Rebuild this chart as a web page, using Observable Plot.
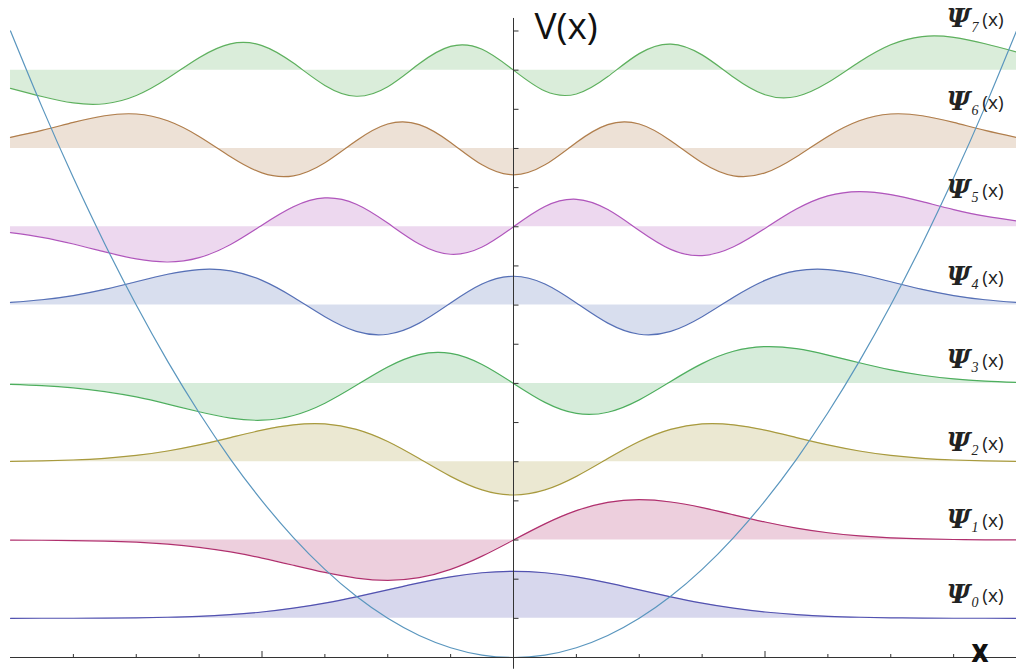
<!DOCTYPE html>
<html><head><meta charset="utf-8">
<script src="https://cdn.jsdelivr.net/npm/d3@7"></script>
<script src="https://cdn.jsdelivr.net/npm/@observablehq/plot@0.6"></script>
<style>html,body{margin:0;padding:0;background:#fff;}</style>
</head><body><div id="chart"></div>
<script>
// x sample positions
const xGrid = [-4, -3.75, -3.5, -3.25, -3, -2.75, -2.5, -2.25, -2, -1.75, -1.5, -1.25, -1, -0.75, -0.5, -0.25, 0,
  0.25, 0.5, 0.75, 1, 1.25, 1.5, 1.75, 2, 2.25, 2.5, 2.75, 3, 3.25, 3.5, 3.75, 4];

// wavefunction displacement above each level
const psi0 = [0.000, 0.001, 0.001, 0.003, 0.007, 0.014, 0.026, 0.048, 0.081, 0.130, 0.195, 0.275, 0.364, 0.454, 0.530, 0.582, 0.601,
  0.582, 0.530, 0.454, 0.364, 0.275, 0.195, 0.130, 0.081, 0.048, 0.026, 0.014, 0.007, 0.003, 0.001, 0.001, 0.000];
const psi1 = [-0.001, -0.003, -0.007, -0.014, -0.028, -0.053, -0.093, -0.152, -0.230, -0.322, -0.414, -0.486, -0.515, -0.481, -0.375, -0.206, 0,
  0.206, 0.375, 0.481, 0.515, 0.486, 0.414, 0.322, 0.230, 0.152, 0.093, 0.053, 0.028, 0.014, 0.007, 0.003, 0.001];
const psi2 = [0.004, 0.010, 0.022, 0.043, 0.080, 0.137, 0.215, 0.308, 0.403, 0.471, 0.483, 0.413, 0.258, 0.040, -0.187, -0.360, -0.425,
  -0.360, -0.187, 0.040, 0.258, 0.413, 0.483, 0.471, 0.403, 0.308, 0.215, 0.137, 0.080, 0.043, 0.022, 0.010, 0.004];
const psi3 = [-0.013, -0.029, -0.057, -0.104, -0.173, -0.264, -0.362, -0.443, -0.470, -0.410, -0.253, -0.025, 0.210, 0.368, 0.383, 0.242, 0,
  -0.242, -0.383, -0.368, -0.210, 0.025, 0.253, 0.410, 0.470, 0.443, 0.362, 0.264, 0.173, 0.104, 0.057, 0.029, 0.013];
const psi4 = [0.034, 0.068, 0.122, 0.201, 0.298, 0.394, 0.454, 0.437, 0.315, 0.100, -0.149, -0.336, -0.372, -0.230, 0.027, 0.269, 0.368,
  0.269, 0.027, -0.230, -0.372, -0.336, -0.149, 0.100, 0.315, 0.437, 0.454, 0.394, 0.298, 0.201, 0.122, 0.068, 0.034];
const psi5 = [-0.075, -0.135, -0.220, -0.321, -0.411, -0.450, -0.394, -0.226, 0.021, 0.256, 0.368, 0.288, 0.047, -0.220, -0.351, -0.259, 0,
  0.259, 0.351, 0.220, -0.047, -0.288, -0.368, -0.256, -0.021, 0.226, 0.394, 0.450, 0.411, 0.321, 0.220, 0.135, 0.075];
const psi6 = [0.141, 0.230, 0.333, 0.418, 0.440, 0.354, 0.154, -0.105, -0.312, -0.350, -0.183, 0.099, 0.312, 0.305, 0.077, -0.209, -0.336,
  -0.209, 0.077, 0.305, 0.312, 0.099, -0.183, -0.350, -0.312, -0.105, 0.154, 0.354, 0.440, 0.418, 0.333, 0.230, 0.141];
const psi7 = [-0.233, -0.337, -0.419, -0.429, -0.324, -0.104, 0.159, 0.336, 0.314, 0.090, -0.195, -0.333, -0.211, 0.082, 0.304, 0.267, 0,
  -0.267, -0.304, -0.082, 0.211, 0.333, 0.195, -0.090, -0.314, -0.336, -0.159, 0.104, 0.324, 0.429, 0.419, 0.337, 0.233];

// energy levels (baselines) and label heights
const energies = [0.5, 1.5, 2.5, 3.5, 4.5, 5.5, 6.5, 7.5];
const labelHeights = [0.79, 1.75, 2.73, 3.79, 4.85, 5.96, 7.08, 8.14];

// potential V(x) at xGrid
const potential = [8, 7.031, 6.125, 5.281, 4.5, 3.781, 3.125, 2.531, 2, 1.531, 1.125, 0.781, 0.5, 0.281, 0.125, 0.031, 0,
  0.031, 0.125, 0.281, 0.5, 0.781, 1.125, 1.531, 2, 2.531, 3.125, 3.781, 4.5, 5.281, 6.125, 7.031, 8];

// ticks
const xMinorTicks = [-3.5, -3, -2.5, -1.5, -1, -0.5, 0.5, 1, 1.5, 2.5, 3, 3.5];
const xMajorTicks = [-2, 2];
const yTicks = [0.5, 1, 1.5, 2, 2.5, 3, 3.5, 4, 4.5, 5, 5.5, 6, 6.5, 7, 7.5, 8];
const vAxisSpan = [-0.15, 8.16];

// styles
const lineColors = ["#5252b0", "#b0306e", "#a89a3e", "#4eae5e", "#5670b6", "#b056bc", "#b07e4c", "#5eb05e"];
const potentialColor = "#5a96be";
const axisColor = "#333333";

const psi = [psi0, psi1, psi2, psi3, psi4, psi5, psi6, psi7];
const rows = psi.map((vals, n) => xGrid.map((x, i) => ({n, x, base: energies[n], y: energies[n] + vals[i]})));
const potRows = xGrid.map((x, i) => ({x, v: potential[i]}));
const labels = energies.map((e, n) => ({n, y: labelHeights[n]}));

const tickRight = {draw(ctx) { ctx.moveTo(0, 0); ctx.lineTo(5, 0); }};
const tickUpShort = {draw(ctx) { ctx.moveTo(0, 0); ctx.lineTo(0, -3.5); }};
const tickUpLong = {draw(ctx) { ctx.moveTo(0, 0); ctx.lineTo(0, -6.5); }};

const marks = [];
rows.forEach((r, n) => {
  marks.push(Plot.areaY(r, {x: "x", y1: "base", y2: "y", fill: lineColors[n], fillOpacity: 0.23, curve: "natural"}));
});
rows.forEach((r, n) => {
  marks.push(Plot.lineY(r, {x: "x", y: "y", stroke: lineColors[n], strokeWidth: 1.2, curve: "natural"}));
});
marks.push(Plot.lineY(potRows, {x: "x", y: "v", stroke: potentialColor, strokeWidth: 1.2, curve: "natural"}));
marks.push(Plot.ruleY([0], {stroke: axisColor, strokeWidth: 1}));
marks.push(Plot.ruleX([0], {y1: vAxisSpan[0], y2: vAxisSpan[1], stroke: axisColor, strokeWidth: 1}));
marks.push(Plot.dot(yTicks, {x: () => 0, y: d => d, symbol: tickRight, fill: "none", stroke: axisColor, strokeWidth: 1}));
marks.push(Plot.dot(xMinorTicks, {x: d => d, y: () => 0, symbol: tickUpShort, fill: "none", stroke: axisColor, strokeWidth: 1}));
marks.push(Plot.dot(xMajorTicks, {x: d => d, y: () => 0, symbol: tickUpLong, fill: "none", stroke: axisColor, strokeWidth: 1}));

// labels
marks.push(Plot.text(labels, {x: () => 4, y: "y", text: () => "(x)", textAnchor: "end", lineAnchor: "middle", dx: -13,
  fontFamily: "Open Sans", fontSize: 19, fill: "#222"}));
marks.push(Plot.text(labels, {x: () => 4, y: "y", text: () => "\u03A8", textAnchor: "end", lineAnchor: "middle", dx: -46, dy: -1,
  fontFamily: "DejaVu Serif", fontStyle: "italic", fontWeight: "bold", fontSize: 26, fill: "#222"}));
marks.push(Plot.text(labels, {x: () => 4, y: "y", text: d => String(d.n), textAnchor: "start", lineAnchor: "middle", dx: -45, dy: 7,
  fontFamily: "Liberation Serif", fontStyle: "italic", fontSize: 14, fill: "#222"}));
marks.push(Plot.text(["V(x)"], {x: () => 0, frameAnchor: "top", text: d => d, textAnchor: "start", lineAnchor: "top", dx: 21, dy: 5,
  fontFamily: "Open Sans", fontSize: 37, fill: "#111"}));
marks.push(Plot.text(["x"], {x: () => 4, y: () => 0, text: d => d, textAnchor: "end", lineAnchor: "bottom", dx: -28, dy: 4,
  fontFamily: "Roboto", fontWeight: "bold", fontSize: 34, fill: "#111"}));

const chart = Plot.plot({
  width: 1016, height: 669,
  marginLeft: 10, marginRight: 0, marginTop: 7, marginBottom: 12,
  x: {domain: [-4, 4], axis: null},
  y: {domain: [0, 8.3], axis: null},
  style: {background: "#fff", overflow: "visible"},
  marks
});
document.getElementById("chart").appendChild(chart);
</script>
</body></html>
